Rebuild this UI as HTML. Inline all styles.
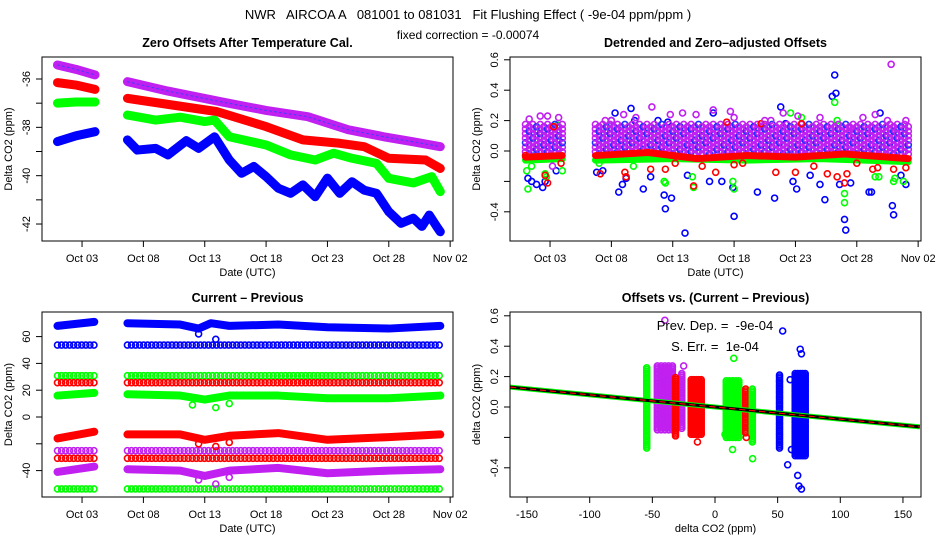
<!DOCTYPE html>
<html><head><meta charset="utf-8"><style>
body{margin:0;background:#fff}
svg{display:block;font-family:"Liberation Sans",sans-serif}
text{white-space:pre}
</style></head><body>
<svg id="chart" width="936" height="540" viewBox="0 0 936 540">
<rect width="936" height="540" fill="#fff"/>
<text x="468" y="19" text-anchor="middle" font-size="13" xml:space="preserve">NWR   AIRCOA A   081001 to 081031   Fit Flushing Effect ( -9e-04 ppm/ppm )</text>
<text x="468" y="39" text-anchor="middle" font-size="12">fixed correction = -0.00074</text>
<g id="g"></g>
</svg>
<script>
// ---------- Data ----------
const dateTickDays=[2,7,12,17,22,27,32];
const dateTickLabels=["Oct 03","Oct 08","Oct 13","Oct 18","Oct 23","Oct 28","Nov 02"];
// Panel 1 (day, value)
const p1Magenta=[[[0,-35.42],[1.5,-35.6],[3.06,-35.83]],[[5.7,-36.11],[9,-36.5],[13.3,-36.94],[17,-37.3],[20.4,-37.56],[23.7,-38.1],[26.6,-38.39],[29,-38.6],[31.2,-38.8]]];
const p1Red=[[[0,-36.15],[1.5,-36.25],[3.06,-36.43]],[[5.7,-36.8],[9,-37.05],[13,-37.35],[17,-37.97],[20,-38.52],[23,-38.66],[25,-38.8],[27,-39.28],[30,-39.35],[31.2,-39.7]]];
const p1Green=[[[0,-37.0],[1.5,-36.95],[3.06,-36.95]],[[5.7,-37.49],[8,-37.7],[10,-37.58],[12,-37.76],[12.8,-37.7],[14,-38.39],[17,-38.73],[19,-39.14],[21,-39.35],[22.5,-39.07],[24,-39.28],[26,-39.49],[27,-40.11],[29,-40.3],[30.5,-40.04],[31.2,-40.66]]];
const p1Blue=[[[0,-38.59],[1.5,-38.35],[3.06,-38.18]],[[5.7,-38.52],[6.5,-38.94],[8,-38.87],[9,-39.14],[10.5,-38.55],[11.5,-38.87],[12.8,-38.39],[14,-39.35],[15,-39.9],[16,-39.62],[17,-40.04],[18,-40.52],[19,-40.73],[20,-40.38],[21,-40.87],[22,-40.1],[23,-40.73],[24,-40.25],[25,-40.6],[26,-40.73],[27,-41.49],[28,-41.97],[29,-41.76],[29.7,-42.1],[30.3,-41.63],[30.9,-42.1],[31.2,-42.32]]];
// Panel 2 central trends and outliers
const p2Segments=[[0,3.06],[5.7,31.2]];
const p2MagentaCloud=[-0.02,0.16];
const p2RedTrend=[[0,-0.04],[3,-0.03],[5.7,-0.03],[10,-0.01],[14,-0.05],[18,-0.03],[22,-0.04],[26,-0.02],[31.2,-0.05]];
const p2GreenTrend=[[0,-0.06],[3,-0.05],[5.7,-0.06],[12,-0.05],[18,-0.06],[24,-0.05],[31.2,-0.07]];
const p2Blue=[[0.2,-0.18],[0.5,-0.2],[0.9,-0.22],[1.4,-0.24],[1.6,-0.2],[2.5,-0.13],[5.8,-0.14],[6.3,-0.13],[7,0.2],[7.3,0.25],[7.6,-0.27],[7.9,-0.22],[8.2,-0.18],[8.6,0.28],[8.9,0.2],[9.6,-0.25],[10.2,-0.17],[10.8,0.2],[11.3,-0.29],[11.4,-0.38],[11.6,0.19],[11.9,-0.31],[13,-0.54],[13.2,-0.16],[15,-0.2],[15.3,0.25],[16,-0.2],[16.9,-0.24],[17,-0.43],[18.9,-0.27],[20.3,-0.31],[20.8,0.29],[21.2,0.18],[21.8,-0.2],[22.1,-0.25],[23.2,-0.16],[24,-0.22],[24.4,-0.32],[25,0.36],[25.2,0.5],[25.3,0.38],[25.6,-0.22],[26,-0.45],[26.1,-0.52],[26.5,-0.21],[28,-0.27],[28.2,-0.27],[28.9,0.25],[29.9,-0.36],[30,-0.42],[30.6,-0.16],[31,-0.22]];
const p2Green=[[0.1,-0.13],[0.2,-0.25],[0.5,-0.1],[1.6,-0.15],[1.7,-0.17],[2.6,0.17],[3,-0.13],[6,-0.08],[8.8,-0.1],[11.3,-0.2],[11.4,-0.21],[13.6,-0.17],[13.7,-0.24],[16.9,-0.2],[17,-0.25],[21.6,0.25],[22.5,0.22],[25.2,0.32],[25.4,0.2],[26,-0.28],[26,-0.34],[28.5,-0.17],[28.8,-0.17],[30,-0.2],[30.1,-0.18],[30.8,-0.2],[30.2,0.12]];
const p2Red=[[0,-0.03],[1.6,-0.16],[1.8,-0.21],[2.3,0.16],[2.9,-0.08],[6.1,-0.15],[8.1,-0.14],[8.2,-0.17],[10.2,-0.12],[11.4,-0.12],[12.2,-0.08],[13.7,-0.23],[14.4,-0.1],[15.5,-0.14],[16.4,0.19],[17,-0.09],[17.7,-0.08],[19.2,0.18],[20.4,-0.14],[22,-0.14],[22.5,0.18],[23.5,-0.1],[24.6,-0.15],[25.4,-0.17],[26,-0.21],[26.2,-0.15],[27,-0.08],[28.3,-0.12],[28.7,-0.11],[30,-0.12],[31,-0.11]];
const p2Magenta=[[0.3,0.21],[1.2,0.23],[1.8,0.23],[2.7,0.22],[2.2,-0.1],[6.5,0.2],[7,0.2],[8,0.24],[9,0.22],[10.3,0.29],[11.8,0.24],[12.8,0.25],[13.9,0.24],[15.3,0.27],[16.7,0.26],[17,0.22],[19.5,0.2],[20,0.2],[21,0.25],[22.2,0.23],[24,0.22],[26.5,0.15],[27.5,0.22],[28.5,0.24],[29.5,0.2],[29.8,0.57],[31,0.2]];
// Panel 3 constant rows (value) and trend bands
const p3Rows=[["#0000ff",53.7],["#00ff00",30.8],["#ff0000",25.6],["#c020f0",-25.1],["#ff0000",-30.8],["#00ff00",-53.7]];
const p3BlueTrend=[[0,68],[3,71],[5.7,70],[10,69],[11.5,66],[12.5,70],[14,68],[18,69],[22,67],[27,66],[31.2,68]];
const p3GreenTrend=[[0,16],[3,18],[5.7,17],[10,16],[12,13],[14,16],[18,16],[22,14],[27,14],[31.2,16]];
const p3RedTrend=[[0,-16],[3,-11],[5.7,-13],[10,-13],[12,-17],[14,-14],[18,-12],[22,-17],[27,-15],[31.2,-13]];
const p3MagentaTrend=[[0,-41],[3,-37],[5.7,-39],[10,-40],[12,-44],[14,-40],[18,-38],[22,-42],[27,-40],[31.2,-39]];
const p3Dips=[["#0000ff",11.5,62],["#0000ff",12.9,58],["#00ff00",11,9],["#00ff00",12.9,7],["#00ff00",14,10],["#ff0000",11.5,-20],["#ff0000",12.9,-22],["#ff0000",14,-19],["#c020f0",11.5,-47],["#c020f0",12.9,-50],["#c020f0",14,-45]];
// Panel 4 clusters: [center, halfWidth, lo, hi, color]
const p4Clusters=[[-53,1.5,-0.27,0.26,"#00ff00"],[-40,6,-0.15,0.28,"#c020f0"],[-25,1.5,-0.14,0.23,"#c020f0"],[-30,1.5,-0.19,0.2,"#ff0000"],[-15,4,-0.18,0.19,"#ff0000"],[14,5,-0.2,0.18,"#00ff00"],[26,1.5,-0.17,0.12,"#ff0000"],[31,1.2,-0.23,0.12,"#00ff00"],[53,1.5,-0.27,0.21,"#0000ff"],[68,4,-0.32,0.22,"#0000ff"]];
const p4Outliers=[[-40,0.57,"#c020f0"],[-25,0.27,"#c020f0"],[-14,-0.23,"#ff0000"],[25,-0.2,"#ff0000"],[15,0.32,"#00ff00"],[14,-0.28,"#00ff00"],[30,-0.34,"#00ff00"],[8,-0.18,"#00ff00"],[54,0.5,"#0000ff"],[58,-0.38,"#0000ff"],[61,-0.28,"#0000ff"],[66,-0.45,"#0000ff"],[67,-0.52,"#0000ff"],[69,-0.54,"#0000ff"],[68,0.38,"#0000ff"],[69,0.35,"#0000ff"],[60,0.18,"#0000ff"]];
const p4Slope=-0.0008;
const p4Intercept=0;

// ---------- Drawing ----------
const NS="http://www.w3.org/2000/svg";
const G=document.getElementById('g');
function mk(tag,attrs,parent){const e=document.createElementNS(NS,tag);for(const k in attrs)e.setAttribute(k,attrs[k]);(parent||G).appendChild(e);return e;}
function circ(x,y,c,p){const e=mk('circle',{cx:x,cy:y,r:3,fill:'none',stroke:c,'stroke-width':1.6},p);

return e;}
function poly(pts,c,w,p){const e=mk('polyline',{points:pts.map(q=>q.join(',')).join(' '),fill:'none',stroke:c,'stroke-width':w,'stroke-linejoin':'round','stroke-linecap':'round'},p);

return e;}
function txt(x,y,s,opt,p){const e=mk('text',Object.assign({x:x,y:y,'text-anchor':'middle','font-size':11},opt||{}),p);e.textContent=s;return e;}

function panel(name,box,title,xlab,ylab,xTicks,xLabs,xf,yTicks,yLabs,yf){
  const g=mk('g',{});
  
  
  const t=txt((box.l+box.r)/2,box.t-10,title,{'font-size':12.5,'font-weight':'bold'},g);
  
  
  const xa=mk('g',{},g);
  
  
  const xs=xTicks.map(xf);
  mk('line',{x1:Math.min(...xs),x2:Math.max(...xs),y1:box.b,y2:box.b,stroke:'#000'},xa);
  xTicks.forEach((v,i)=>{const x=xf(v);mk('line',{x1:x,x2:x,y1:box.b,y2:box.b+6,stroke:'#000'},xa);
    const l=txt(x,box.b+21,xLabs[i],{},xa);
    
    });
  const xt=txt((box.l+box.r)/2,box.b+35,xlab,{},g);
  
  
  const ya=mk('g',{},g);
  
  
  const ys=yTicks.map(yf);
  mk('line',{x1:box.l,x2:box.l,y1:Math.min(...ys),y2:Math.max(...ys),stroke:'#000'},ya);
  yTicks.forEach((v,i)=>{const y=yf(v);mk('line',{x1:box.l,x2:box.l-6,y1:y,y2:y,stroke:'#000'},ya);
    if(yLabs[i]){const l=txt(box.l-12,y,yLabs[i],{transform:`rotate(-90 ${box.l-12} ${y})`},ya);
    
    }});
  const yt=txt(box.l-30,(box.t+box.b)/2,ylab,{transform:`rotate(-90 ${box.l-30} ${(box.t+box.b)/2})`},g);
  
  
  const plot=mk('g',{},g);
  
  
  const fr=mk('rect',{x:box.l,y:box.t,width:box.r-box.l,height:box.b-box.t,fill:'none',stroke:'#000'},g);
  
  
  return plot;
}
const MAG="#c020f0";
// Panel 1
{const box={l:42,r:453,t:57,b:241};
 const xf=d=>57.5+d*12.27, yf=v=>79+(-36-v)*24.17;
 const yt=[-36,-37,-38,-39,-40,-41,-42], yl=["-36","","-38","","-40","","-42"];
 const p=panel('zero-offsets-panel',box,'Zero Offsets After Temperature Cal.','Date (UTC)','Delta CO2 (ppm)',dateTickDays,dateTickLabels,xf,yt,yl,yf);
 [[p1Magenta,MAG],[p1Red,'#ff0000'],[p1Green,'#00ff00'],[p1Blue,'#0000ff']].forEach(([s,c])=>{
   s.forEach(seg=>{poly(seg.map(q=>[xf(q[0]),yf(q[1])]),c,9,p);seg.forEach(q=>circ(xf(q[0]),yf(q[1]),c,p));});
 });
 p1Magenta.forEach(seg=>poly(seg.map(q=>[xf(q[0]),yf(q[1])]),'#4040ff',1,p).setAttribute('stroke-dasharray','2 3'));
}
// Panel 2
{const box={l:510,r:921,t:57,b:241};
 const xf=d=>525.5+d*12.27, yf=v=>151-v*152;
 const yt=[-0.4,-0.2,0,0.2,0.4,0.6], yl=["-0.4","","0.0","0.2","0.4","0.6"];
 const p=panel('detrended-offsets-panel',box,'Detrended and Zero\u2013adjusted Offsets','Date (UTC)','Delta CO2 (ppm)',dateTickDays,dateTickLabels,xf,yt,yl,yf);
 p2Blue.forEach(q=>circ(xf(q[0]),yf(q[1]),'#0000ff',p));
 p2Green.forEach(q=>circ(xf(q[0]),yf(q[1]),'#00ff00',p));
 p2Segments.forEach(s=>{
   let k=0;
   for(let d=s[0];d<=s[1]+1e-9;d+=0.3){k++;
     for(let v=p2MagentaCloud[0];v<=p2MagentaCloud[1]+1e-9;v+=0.03){
       circ(xf(d),yf(v+((k%2)?0.015:0)),((k+Math.round(v*100))%5===0)?'#2030ff':MAG,p);}}
 });
 [[p2GreenTrend,'#00ff00'],[p2RedTrend,'#ff0000']].forEach(([s,c])=>{
   p2Segments.forEach(sg=>{const pts=s.filter(q=>q[0]>=sg[0]&&q[0]<=sg[1]);poly(pts.map(q=>[xf(q[0]),yf(q[1])]),c,7,p);});
 });
 p2Red.forEach(q=>circ(xf(q[0]),yf(q[1]),'#ff0000',p));
 p2Magenta.forEach(q=>circ(xf(q[0]),yf(q[1]),MAG,p));
}
// Panel 3
{const box={l:42,r:453,t:312,b:497};
 const xf=d=>57.5+d*12.27, yf=v=>417-v*1.34;
 const yt=[-40,-20,0,20,40,60], yl=["-40","","0","20","40","60"];
 const p=panel('current-minus-previous-panel',box,'Current \u2013 Previous','Date (UTC)','Delta CO2 (ppm)',dateTickDays,dateTickLabels,xf,yt,yl,yf);
 p3Rows.forEach(([c,v])=>{p2Segments.forEach(sg=>{for(let d=sg[0];d<=sg[1]+0.01;d+=0.33)circ(xf(d),yf(v),c,p);});});
 [[p3BlueTrend,'#0000ff'],[p3GreenTrend,'#00ff00'],[p3RedTrend,'#ff0000'],[p3MagentaTrend,MAG]].forEach(([s,c])=>{
   p2Segments.forEach(sg=>{const pts=s.filter(q=>q[0]>=sg[0]&&q[0]<=sg[1]);poly(pts.map(q=>[xf(q[0]),yf(q[1])]),c,8,p);});
 });
 p3Dips.forEach(([c,d,v])=>circ(xf(d),yf(v),c,p));
}
// Panel 4
{const box={l:510,r:921,t:312,b:497};
 const xf=u=>715+u*1.253, yf=v=>407-v*152;
 const yt=[-0.4,-0.2,0,0.2,0.4,0.6], yl=["-0.4","","0.0","0.2","0.4","0.6"];
 const xt=[-150,-100,-50,0,50,100,150];
 const p=panel('offsets-vs-diff-panel',box,'Offsets vs. (Current \u2013 Previous)','delta CO2 (ppm)','delta CO2 (ppm)',xt,xt.map(String),xf,yt,yl,yf);
 p4Clusters.forEach(([u,hw,lo,hi,c])=>{for(let v=lo;v<=hi+1e-9;v+=0.012){circ(xf(u-hw),yf(v),c,p);if(hw>2){circ(xf(u-hw/2),yf(v),c,p);circ(xf(u),yf(v),c,p);circ(xf(u+hw/2),yf(v),c,p);circ(xf(u+hw),yf(v),c,p);}}});
 p4Outliers.forEach(([u,v,c])=>circ(xf(u),yf(v),c,p));
 const u0=-163.5,u1=163.5;
 const L=(c,w,da)=>{const e=mk('line',{x1:xf(u0),x2:xf(u1),y1:yf(p4Intercept+p4Slope*u0),y2:yf(p4Intercept+p4Slope*u1),stroke:c,'stroke-width':w},p);if(da)e.setAttribute('stroke-dasharray',da);
   
   };
 L('#00ff00',5);L('#000',3);L('#ff0000',1.2,'6 4');
 const a=txt(715,330,'Prev. Dep. =  -9e-04',{'font-size':13},p);
 
 
 const b=txt(715,351,'S. Err. =  1e-04',{'font-size':13},p);
 
 
}
</script>
</body></html>
